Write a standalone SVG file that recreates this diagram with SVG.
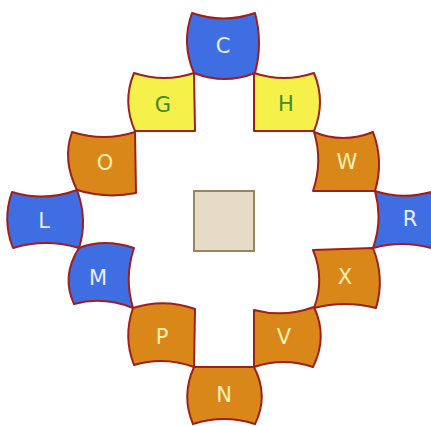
<svg xmlns="http://www.w3.org/2000/svg" width="431" height="426" viewBox="0 0 431 426">
<style>
.t{stroke:#9e1f1c;stroke-width:2;stroke-linejoin:round}
.b{fill:#3f6ee2}
.o{fill:#d98719}
.y{fill:#f5f04a}
text{font-family:"DejaVu Sans","Liberation Sans",sans-serif;font-size:21px;text-anchor:middle}
.lb{fill:#e8f0ff}
.lo{fill:#fbf0b4}
.ly{fill:#3d8c2a}
</style>
<rect width="431" height="426" fill="#ffffff"/>
<g id="center"><rect x="194" y="191" width="60" height="60" fill="#e6dbc7" stroke="#9b8456" stroke-width="2"/></g>
<g id="C"><path class="t b" d="M192,13 Q223.5,24 255,13 Q263,43 255,73 Q224.5,85 194,73 Q181,43 192,13 Z"/><text class="lb" x="223" y="53">C</text></g>
<g id="G"><path class="t y" d="M134,73 Q164.5,83 194,73 L195,131 L135,131 Q122,102 134,73 Z"/><text class="ly" x="163" y="112">G</text></g>
<g id="H"><path class="t y" d="M254,73 Q284,83 314,73 Q326,102 314,131 L254,131 Z"/><text class="ly" x="286" y="111">H</text></g>
<g id="O"><path class="t o" d="M72,132 Q104,142 135,132 L136,193 Q106,199 77,190 Q62,160 72,132 Z"/><text class="lo" x="105" y="170">O</text></g>
<g id="W"><path class="t o" d="M314,132 Q343,144 373,132 Q384,161 375,191 L313,191 Q323,161 314,132 Z"/><text class="lo" x="347" y="169">W</text></g>
<g id="L"><path class="t b" d="M12,192 Q45,202 77,190 Q88,220 79,248 Q46,238 13,248 Q2,220 12,192 Z"/><text class="lb" x="44" y="228">L</text></g>
<g id="R"><path class="t b" d="M375,191 Q405,201 438,190 L438,250 Q405,239 373,248 Q383,220 375,191 Z"/><text class="lb" x="410" y="226">R</text></g>
<g id="M"><path class="t b" d="M79,248 Q104,238 134,248 Q124,278 133,308 Q103,296 74,304 Q61,276 79,248 Z"/><text class="lb" x="98" y="285">M</text></g>
<g id="X"><path class="t o" d="M313,250 L373,248 Q385,278 376,308 Q345,300 314,308 Q325,279 313,250 Z"/><text class="lo" x="345" y="284">X</text></g>
<g id="P"><path class="t o" d="M133,308 Q164,298 195,309 L194,367 Q164,356 134,365 Q123,337 133,308 Z"/><text class="lo" x="162" y="344">P</text></g>
<g id="V"><path class="t o" d="M254,310 Q284,318 314,307 Q328,337 313,367 Q283,357 254,367 Z"/><text class="lo" x="284" y="344">V</text></g>
<g id="N"><path class="t o" d="M194,367 L254,367 Q269,396 255,424 Q224,414 193,424 Q181,396 194,367 Z"/><text class="lo" x="224" y="402">N</text></g>
</svg>
